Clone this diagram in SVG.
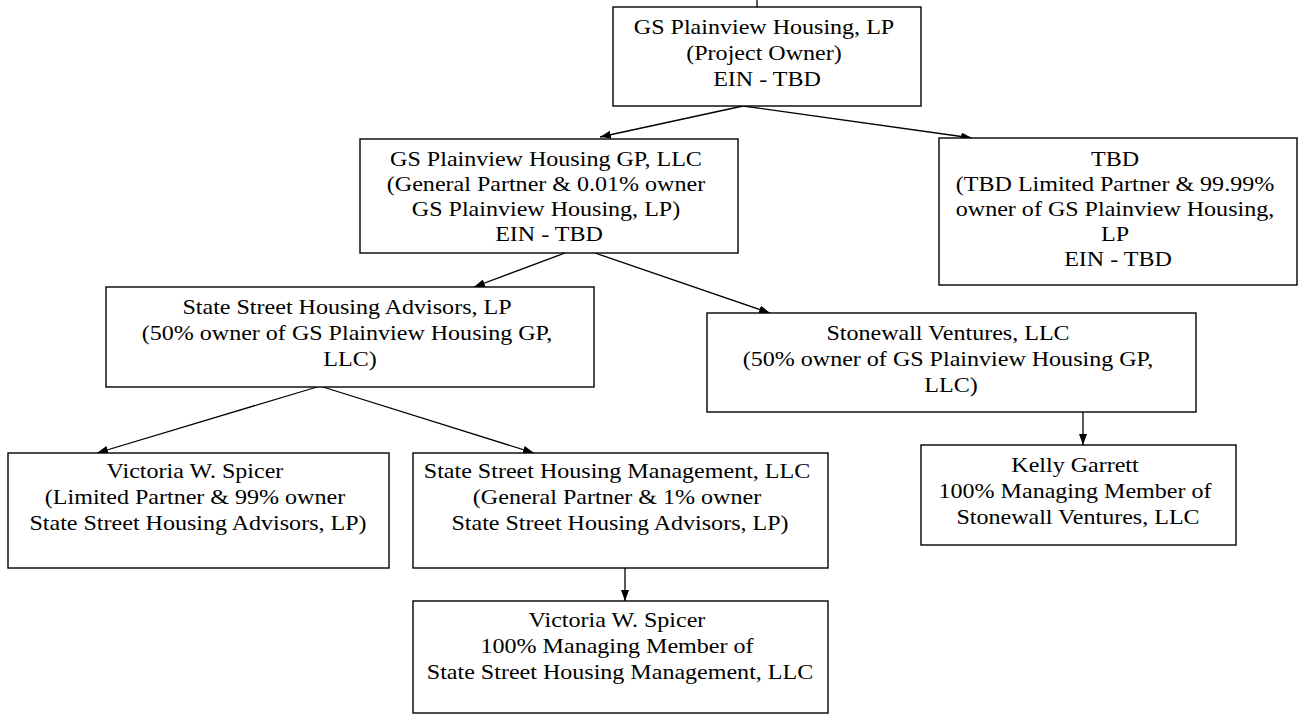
<svg xmlns="http://www.w3.org/2000/svg" width="1299" height="715" viewBox="0 0 1299 715">
  <style>
    .box { fill: #ffffff; stroke: #000000; stroke-width: 1.4; }
    .lbl { font-family: "Liberation Serif", "Times New Roman", serif; font-size: 21px; fill: #000000; text-anchor: middle; }
    .edge { stroke: #000000; stroke-width: 1.3; fill: none; marker-end: url(#arrow); }
  </style>
  <defs>
    <marker id="arrow" markerUnits="userSpaceOnUse" markerWidth="11" markerHeight="8" refX="11" refY="4" orient="auto">
      <path d="M0,0 L11,4 L0,8 z" fill="#000000"/>
    </marker>
  </defs>
  <rect width="1299" height="715" fill="#ffffff"/>

  <!-- ownership connectors -->
  <g id="connectors">
    <line x1="757" y1="0" x2="757" y2="7" stroke="#000000" stroke-width="1.3"/>
    <line class="edge" x1="743" y1="106" x2="600" y2="137"/>
    <line class="edge" x1="743" y1="106" x2="972" y2="138"/>
    <line class="edge" x1="565" y1="253" x2="474" y2="287"/>
    <line class="edge" x1="595" y1="253" x2="770" y2="313"/>
    <line class="edge" x1="317" y1="387" x2="97" y2="453"/>
    <line class="edge" x1="323" y1="387" x2="534" y2="453"/>
    <line class="edge" x1="1083" y1="412" x2="1083" y2="445"/>
    <line class="edge" x1="625" y1="568" x2="625" y2="601"/>
  </g>

  <g id="project-owner">
    <rect class="box" x="613" y="7" width="308" height="99"/>
    <text class="lbl" transform="translate(767,34) scale(1.145,1)">
      <tspan x="0" y="0">GS Plainview Housing, LP</tspan>
      <tspan x="0" y="26">(Project Owner)</tspan>
      <tspan x="0" y="52">EIN - TBD</tspan>
    </text>
  </g>

  <g id="general-partner">
    <rect class="box" x="360" y="139" width="378" height="114"/>
    <text class="lbl" transform="translate(549,166) scale(1.145,1)">
      <tspan x="0" y="0">GS Plainview Housing GP, LLC</tspan>
      <tspan x="0" y="25">(General Partner &amp; 0.01% owner</tspan>
      <tspan x="0" y="50">GS Plainview Housing, LP)</tspan>
      <tspan x="0" y="75">EIN - TBD</tspan>
    </text>
  </g>

  <g id="limited-partner">
    <rect class="box" x="939" y="138" width="358" height="147"/>
    <text class="lbl" transform="translate(1118,166) scale(1.145,1)">
      <tspan x="0" y="0">TBD</tspan>
      <tspan x="0" y="25">(TBD Limited Partner &amp; 99.99%</tspan>
      <tspan x="0" y="50">owner of GS Plainview Housing,</tspan>
      <tspan x="0" y="75">LP</tspan>
      <tspan x="0" y="100">EIN - TBD</tspan>
    </text>
  </g>

  <g id="state-street-advisors">
    <rect class="box" x="106" y="287" width="488" height="100"/>
    <text class="lbl" transform="translate(350,314) scale(1.145,1)">
      <tspan x="0" y="0">State Street Housing Advisors, LP</tspan>
      <tspan x="0" y="26">(50% owner of GS Plainview Housing GP,</tspan>
      <tspan x="0" y="52">LLC)</tspan>
    </text>
  </g>

  <g id="stonewall-ventures">
    <rect class="box" x="707" y="313" width="489" height="99"/>
    <text class="lbl" transform="translate(951,340) scale(1.145,1)">
      <tspan x="0" y="0">Stonewall Ventures, LLC</tspan>
      <tspan x="0" y="26">(50% owner of GS Plainview Housing GP,</tspan>
      <tspan x="0" y="52">LLC)</tspan>
    </text>
  </g>

  <g id="kelly-garrett">
    <rect class="box" x="921" y="445" width="315" height="100"/>
    <text class="lbl" transform="translate(1078,472) scale(1.145,1)">
      <tspan x="0" y="0">Kelly Garrett</tspan>
      <tspan x="0" y="26">100% Managing Member of</tspan>
      <tspan x="0" y="52">Stonewall Ventures, LLC</tspan>
    </text>
  </g>

  <g id="victoria-spicer-lp">
    <rect class="box" x="8" y="453" width="381" height="115"/>
    <text class="lbl" transform="translate(198,478) scale(1.145,1)">
      <tspan x="0" y="0">Victoria W. Spicer</tspan>
      <tspan x="0" y="26">(Limited Partner &amp; 99% owner</tspan>
      <tspan x="0" y="52">State Street Housing Advisors, LP)</tspan>
    </text>
  </g>

  <g id="state-street-management">
    <rect class="box" x="413" y="453" width="415" height="115"/>
    <text class="lbl" transform="translate(620,478) scale(1.145,1)">
      <tspan x="0" y="0">State Street Housing Management, LLC</tspan>
      <tspan x="0" y="26">(General Partner &amp; 1% owner</tspan>
      <tspan x="0" y="52">State Street Housing Advisors, LP)</tspan>
    </text>
  </g>

  <g id="victoria-spicer-member">
    <rect class="box" x="413" y="601" width="415" height="112"/>
    <text class="lbl" transform="translate(620,627) scale(1.145,1)">
      <tspan x="0" y="0">Victoria W. Spicer</tspan>
      <tspan x="0" y="26">100% Managing Member of</tspan>
      <tspan x="0" y="52">State Street Housing Management, LLC</tspan>
    </text>
  </g>
</svg>
